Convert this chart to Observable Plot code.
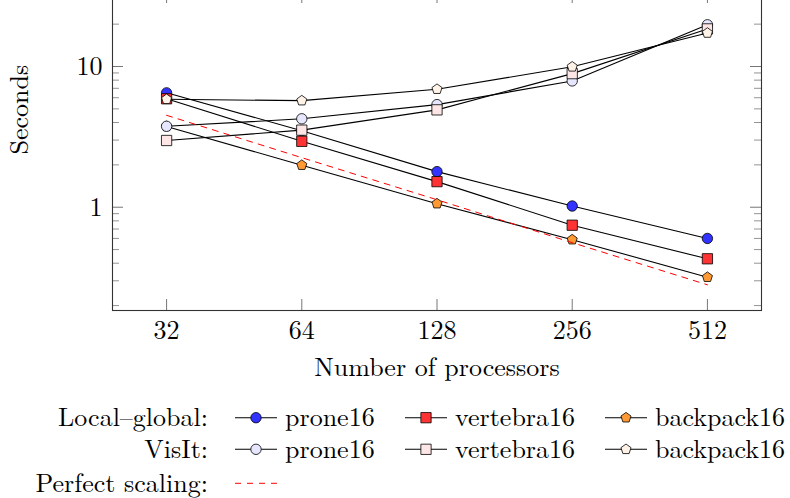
<!DOCTYPE html>
<html><head><meta charset="utf-8">
<script src="https://cdn.jsdelivr.net/npm/d3@7"></script>
<script src="https://cdn.jsdelivr.net/npm/@observablehq/plot@0.6"></script>
<style>
html,body{margin:0;padding:0;background:#fff;}
body{width:790px;height:498px;overflow:hidden;position:relative;}
#chart{position:absolute;left:0;top:-18px;}
#legend{position:absolute;left:0;top:390px;}
</style></head><body><div id="chart"></div><div id="legend"></div>
<script>
// ---- data ----
const processors = [32, 64, 128, 256, 512];
const lgProne    = [6.5, 3.5, 1.79, 1.02, 0.60];
const lgVertebra = [5.9, 2.94, 1.52, 0.745, 0.43];
const lgBackpack = [3.75, 1.99, 1.06, 0.588, 0.318];
const viProne    = [3.76, 4.25, 5.36, 7.9, 19.8];
const viVertebra = [2.98, 3.53, 4.92, 8.9, 18.5];
const viBackpack = [5.85, 5.72, 6.9, 9.95, 17.3];
const perfect    = [4.5, 2.25, 1.13, 0.56, 0.281];
const xTickLabels = ["32", "64", "128", "256", "512"];
const yMajor = [1, 10];
const yMajorLabels = ["1", "10"];
const yMinor = [0.2, 0.3, 0.4, 0.5, 0.6, 0.7, 0.8, 0.9, 2, 3, 4, 5, 6, 7, 8, 9, 20, 30];
const groupNames = ["Local–global:", "VisIt:", "Perfect scaling:"];
const seriesNames = ["prone16", "vertebra16", "backpack16"];

// ---- styles ----
const FONT = "Latin Modern Roman";
const FS = 26;
const pentagon = {
  draw(ctx, size) {
    const R = Math.sqrt(size / Math.PI);
    for (let k = 0; k < 5; k++) {
      const a = -Math.PI / 2 + k * 2 * Math.PI / 5;
      const px = R * Math.cos(a), py = R * Math.sin(a);
      if (k === 0) ctx.moveTo(px, py); else ctx.lineTo(px, py);
    }
    ctx.closePath();
  }
};
const series = [
  {values: lgProne,    fill: "#3333ff", symbol: "circle", r: 5.2, row: 0, col: 0},
  {values: lgVertebra, fill: "#ff3333", symbol: "square", r: 5.8, row: 0, col: 1},
  {values: lgBackpack, fill: "#ff9933", symbol: pentagon, r: 5.3, row: 0, col: 2},
  {values: viProne,    fill: "#e6e6ff", symbol: "circle", r: 5.2, row: 1, col: 0},
  {values: viVertebra, fill: "#ffe6e6", symbol: "square", r: 5.8, row: 1, col: 1},
  {values: viBackpack, fill: "#fff2e6", symbol: pentagon, r: 5.3, row: 1, col: 2}
];

const W = 790, H = 400, mL = 112, mR = 29, mT = 10, frameH = 318;
const mB = H - mT - frameH, frameW = W - mL - mR;
const yLo = Math.pow(10, -0.734), yHi = Math.pow(10, 1.526);
const xLo = Math.pow(2, 4.6), xHi = Math.pow(2, 9.4);
const txt = {fontFamily: FONT, fontSize: FS, fill: "black"};

const marks = [];
marks.push(Plot.tickX(processors, {x: d => d, insetTop: frameH - 11, stroke: "#777", strokeWidth: 1}));
marks.push(Plot.tickX(processors, {x: d => d, insetBottom: frameH - 11, stroke: "#777", strokeWidth: 1}));
marks.push(Plot.tickY(yMajor, {y: d => d, insetRight: frameW - 11, stroke: "#777", strokeWidth: 1}));
marks.push(Plot.tickY(yMajor, {y: d => d, insetLeft: frameW - 11, stroke: "#777", strokeWidth: 1}));
marks.push(Plot.tickY(yMinor, {y: d => d, insetRight: frameW - 7, stroke: "#888", strokeWidth: 0.9}));
marks.push(Plot.tickY(yMinor, {y: d => d, insetLeft: frameW - 7, stroke: "#888", strokeWidth: 0.9}));

for (const s of series) {
  const rows = processors.map((p, i) => ({p, v: s.values[i]}));
  marks.push(Plot.line(rows, {x: "p", y: "v", stroke: "black", strokeWidth: 1.1}));
  marks.push(Plot.dot(rows, {x: "p", y: "v", symbol: s.symbol, r: s.r, fill: s.fill, stroke: "black", strokeWidth: 0.8}));
}
const perfRows = processors.map((p, i) => ({p, v: perfect[i]}));
marks.push(Plot.line(perfRows, {x: "p", y: "v", stroke: "#ff0000", strokeWidth: 1, strokeDasharray: "6,6"}));

marks.push(Plot.frame({stroke: "#333", strokeWidth: 1.1}));
marks.push(Plot.text(processors, {x: d => d, text: (d, i) => xTickLabels[i], frameAnchor: "bottom", dy: 20, lineAnchor: "middle", ...txt}));
marks.push(Plot.text(yMajor, {y: d => d, text: (d, i) => yMajorLabels[i], frameAnchor: "left", dx: -10, textAnchor: "end", lineAnchor: "middle", ...txt}));
marks.push(Plot.text(["Number of processors"], {text: d => d, frameAnchor: "bottom", dy: 56.7, lineAnchor: "middle", ...txt}));
marks.push(Plot.text(["Seconds"], {text: d => d, frameAnchor: "left", rotate: -90, dx: -93, dy: 3, lineAnchor: "middle", ...txt}));

const chart = Plot.plot({
  width: W, height: H,
  marginLeft: mL, marginRight: mR, marginTop: mT, marginBottom: mB,
  style: {background: "transparent", overflow: "visible"},
  x: {type: "log", base: 2, domain: [xLo, xHi], axis: null},
  y: {type: "log", domain: [yLo, yHi], axis: null},
  marks
});
document.getElementById("chart").appendChild(chart);

// ---- legend ----
const lg = d3.select("#legend").append("svg").attr("width", W).attr("height", 108);
const baseY = [35.7, 68.3, 101.7];
const lineY = [27.7, 59.3, 93.3];
const colX = [235, 405, 605];
groupNames.forEach((g, i) => {
  lg.append("text").attr("x", 208).attr("y", baseY[i]).attr("text-anchor", "end")
    .attr("font-family", FONT).attr("font-size", FS).text(g);
});
const symMap = {circle: d3.symbolCircle, square: d3.symbolSquare};
for (const s of series) {
  const x0 = colX[s.col], y0 = lineY[s.row];
  lg.append("line").attr("x1", x0).attr("x2", x0 + 42).attr("y1", y0).attr("y2", y0)
    .attr("stroke", "black").attr("stroke-width", 1.1);
  const type = typeof s.symbol === "string" ? symMap[s.symbol] : s.symbol;
  lg.append("path").attr("d", d3.symbol(type, s.r * s.r * Math.PI)())
    .attr("transform", `translate(${x0 + 21},${y0})`)
    .attr("fill", s.fill).attr("stroke", "black").attr("stroke-width", 0.8);
  lg.append("text").attr("x", x0 + 50).attr("y", baseY[s.row])
    .attr("font-family", FONT).attr("font-size", FS).text(seriesNames[s.col]);
}
lg.append("line").attr("x1", 235).attr("x2", 277).attr("y1", lineY[2]).attr("y2", lineY[2])
  .attr("stroke", "#ff0000").attr("stroke-width", 1).attr("stroke-dasharray", "6,6");
</script></body></html>
